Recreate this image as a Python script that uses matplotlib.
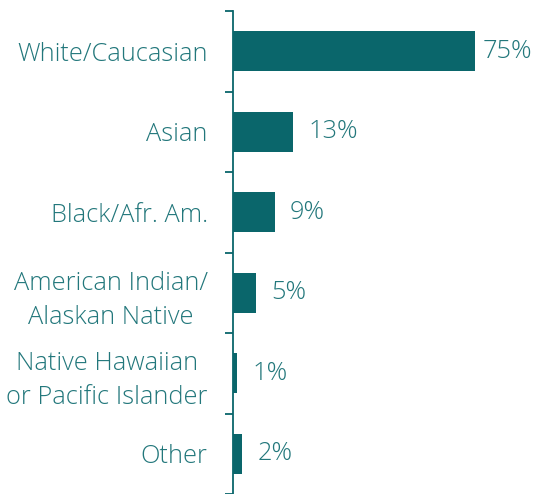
import matplotlib.pyplot as plt
import numpy as np

###DATA###
categories = ['White/Caucasian', 'Asian', 'Black/Afr. Am.',
              'American Indian/\nAlaskan Native',
              'Native Hawaiian\nor Pacific Islander', 'Other']
values = [75, 13, 9, 5, 1, 2]   # percent
labels = ['75%', '13%', '9%', '5%', '1%', '2%']

###STYLE###
bar_col = '#0a666b'
txt_col = '#22777b'
x_max = 52      # axis is cut short, the big bar runs off to the edge
plt.rcParams['font.family'] = ['Open Sans', 'DejaVu Sans']

###PLOT###
fig = plt.figure(figsize=(5.37, 4.94), dpi=100)
ax = fig.add_axes([0.4333, 0.0, 0.4512, 0.9777])

y = np.arange(len(categories))
ax.barh(y, values, height=0.5, color=bar_col)

for yi, v, lab in zip(y, values, labels):
    off = 11 if v <= x_max else 5.5
    ax.annotate(lab, (min(v, x_max), yi), xytext=(off, 0), textcoords='offset points',
                ha='left', va='center', fontsize=18.3, fontweight='light',
                color=txt_col, annotation_clip=False)

ax.set_xlim(0, x_max)
ax.set_ylim(len(categories) - 0.5, -0.5)

for s in ['top', 'right', 'bottom']:
    ax.spines[s].set_visible(False)
ax.spines['left'].set_color(bar_col)
ax.spines['left'].set_linewidth(1.3)
ax.set_xticks([])

ax.set_yticks(y)
ax.set_yticklabels(categories, fontsize=18.3, fontweight='light', color=txt_col,
                   multialignment='center', linespacing=1.48)
ax.tick_params(axis='y', which='major', length=0, pad=18)
ax.set_yticks(np.arange(-0.5, len(categories), 1), minor=True)
ax.tick_params(axis='y', which='minor', length=6, width=1.3, color=bar_col)

fig.savefig('out.png', dpi=100)
